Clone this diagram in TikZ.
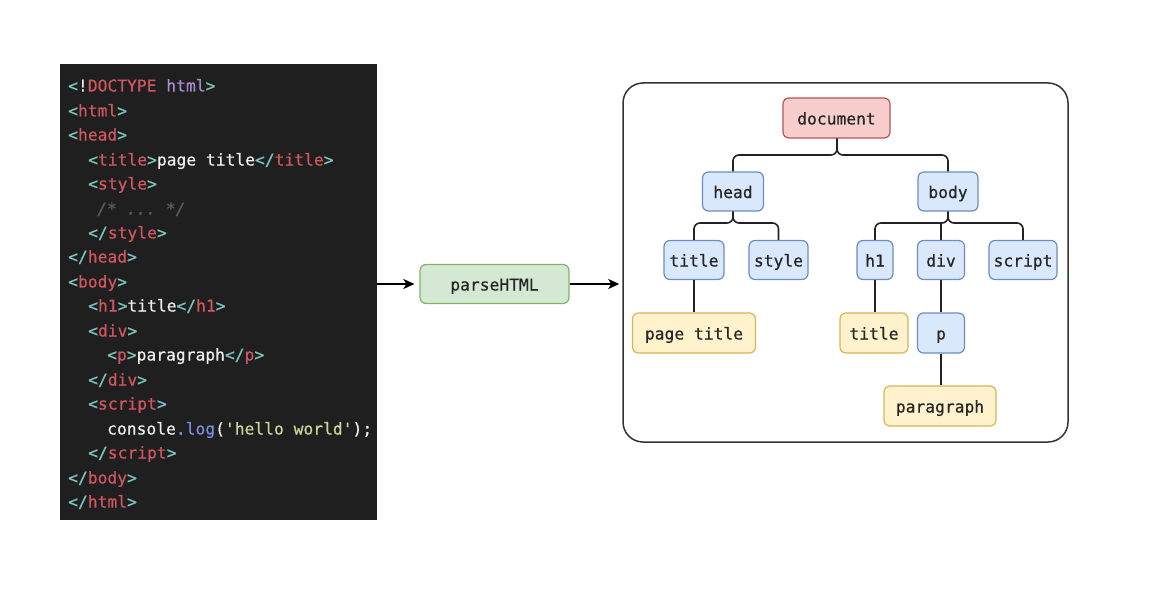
\documentclass[tikz,border=0pt]{standalone}
\usepackage{fontspec}
\setmonofont[FakeBold=0.6]{DejaVu Sans Mono}
\usetikzlibrary{arrows.meta}

\definecolor{codebg}{HTML}{1F1F1F}
\definecolor{cbr}{HTML}{7CC5BD}
\definecolor{cnm}{HTML}{CF5561}
\definecolor{cpur}{HTML}{A78BD0}
\definecolor{ccom}{HTML}{5A5A5A}
\definecolor{clog}{HTML}{7F8BE0}
\definecolor{cstr}{HTML}{CFD39A}
\definecolor{cwht}{HTML}{EEEEEE}
\definecolor{bluefill}{HTML}{DAE8FC}
\definecolor{blueline}{HTML}{6C8EBF}
\definecolor{redfill}{HTML}{F8CECC}
\definecolor{redline}{HTML}{B85450}
\definecolor{ylwfill}{HTML}{FFF2CC}
\definecolor{ylwline}{HTML}{D6B656}
\definecolor{grnfill}{HTML}{D5E8D4}
\definecolor{grnline}{HTML}{82B366}
\definecolor{boxline}{HTML}{333333}
\definecolor{lnk}{HTML}{222222}

\newcommand\cf{\ttfamily\fontsize{16.3}{19}\selectfont}
\newcommand\optag[1]{\textcolor{cbr}{<}\textcolor{cnm}{#1}\textcolor{cbr}{>}}
\newcommand\cltag[1]{\textcolor{cbr}{</}\textcolor{cnm}{#1}\textcolor{cbr}{>}}

\tikzset{
  codeline/.style={anchor=west, inner sep=0, text height=15, text depth=2, font=\cf, text=cwht},
  tnode/.style={draw, rounded corners=6, line width=1.2, minimum height=39, inner xsep=4, text height=15, text depth=2, font=\cf, text=black!85},
  blu/.style={tnode, fill=bluefill, draw=blueline},
  rd/.style={tnode, fill=redfill, draw=redline},
  ylw/.style={tnode, fill=ylwfill, draw=ylwline},
  grn/.style={tnode, fill=grnfill, draw=grnline},
  link/.style={line width=1.6, draw=lnk, rounded corners=6},
  arr/.style={line width=1.8, draw=black, -{Stealth[length=11,width=10,inset=3]}},
}

\begin{document}
\begin{tikzpicture}[x=1pt,y=-1pt]
\fill[white] (0,0) rectangle (1155,591);

% source code
\node[fill=codebg, minimum width=317, minimum height=456, inner sep=0, anchor=north west] (codebox) at (60,64) {};
\node[codeline] (l1) at (68,85) {\textcolor{cbr}{<}!\textcolor{cnm}{DOCTYPE} \textcolor{cpur}{html}\textcolor{cbr}{>}};
\node[codeline] (l2) at (68,110) {\optag{html}};
\node[codeline] (l3) at (68,134) {\optag{head}};
\node[codeline] (l4) at (88,159) {\optag{title}page title\cltag{title}};
\node[codeline] (l5) at (88,183) {\optag{style}};
\node[codeline] (l6) at (97,208) {\textcolor{ccom}{\itshape /* ... */}};
\node[codeline] (l7) at (88,232) {\cltag{style}};
\node[codeline] (l8) at (68,256) {\cltag{head}};
\node[codeline] (l9) at (68,281) {\optag{body}};
\node[codeline] (l10) at (88,305) {\optag{h1}title\cltag{h1}};
\node[codeline] (l11) at (88,330) {\optag{div}};
\node[codeline] (l12) at (107,354) {\optag{p}paragraph\cltag{p}};
\node[codeline] (l13) at (88,379) {\cltag{div}};
\node[codeline] (l14) at (88,403) {\optag{script}};
\node[codeline] (l15) at (107,428) {console\textcolor{clog}{.log}(\textcolor{cstr}{'hello world'});};
\node[codeline] (l16) at (88,452) {\cltag{script}};
\node[codeline] (l17) at (68,477) {\cltag{body}};
\node[codeline] (l18) at (68,501) {\cltag{html}};

\node[grn, minimum width=149] (parse) at (494.5,284) {parseHTML};

% dom tree
\node[draw=boxline, line width=1.5, rounded corners=20, minimum width=445, minimum height=359] (tree) at (845.5,262.5) {};
\node[rd, minimum width=107, minimum height=40] (doc) at (836.5,118) {document};
\node[blu, minimum width=61] (head) at (733,191.5) {head};
\node[blu, minimum width=60] (body) at (948,191.5) {body};
\node[blu, minimum width=60] (ttl) at (694,260) {title};
\node[blu, minimum width=59] (sty) at (778.5,260) {style};
\node[blu, minimum width=36] (hone) at (875,260) {h1};
\node[blu, minimum width=47] (div) at (941,260) {div};
\node[blu, minimum width=68] (scr) at (1023,260) {script};
\node[ylw, minimum width=123, minimum height=40] (ptitle) at (694,333) {page title};
\node[ylw, minimum width=68, minimum height=40] (htitle) at (874,333) {title};
\node[blu, minimum width=47, minimum height=40] (p) at (941,333) {p};
\node[ylw, minimum width=112, minimum height=40] (para) at (940,406) {paragraph};

\coordinate (j1) at (837,155);
\coordinate (j2) at (733,223);
\coordinate (j3) at (948,223);
\draw[link] (head.north) |- (j1) -- (doc.south -| j1);
\draw[link] (body.north) |- (j1) -- (doc.south -| j1);
\draw[link] (ttl.north) |- (j2) -- (head.south);
\draw[link] (sty.north) |- (j2) -- (head.south);
\draw[link] (hone.north) |- (j3) -- (body.south);
\draw[link] (scr.north) |- (j3) -- (body.south);
\draw[link] (div.north) -- (div.north |- j3);
\draw[link] (ttl.south) -- (ttl.south |- ptitle.north);
\draw[link] (hone.south) -- (hone.south |- htitle.north);
\draw[link] (div.south) -- (div.south |- p.north);
\draw[link] (p.south) -- (p.south |- para.north);

\draw[arr, shorten >=5] (codebox.east |- parse.west) -- (parse.west);
\draw[arr, shorten >=3] (parse.east) -- (tree.west |- parse.east);
\end{tikzpicture}
\end{document}
